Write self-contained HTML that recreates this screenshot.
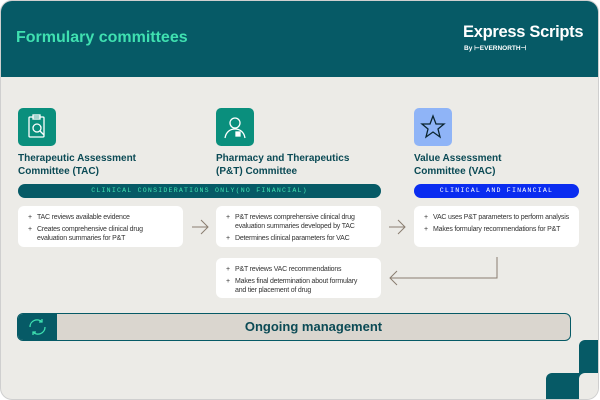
<!DOCTYPE html>
<html><head><meta charset="utf-8"><style>
*{margin:0;padding:0;box-sizing:border-box}
body{width:600px;height:400px;background:#fff;font-family:"Liberation Sans",sans-serif;position:relative;overflow:hidden}
.card{position:absolute;left:0;top:0;width:599px;height:400px;border-radius:12px;background:#ecebe7;border:1px solid #cfcfcf;overflow:hidden}
.hdr{position:absolute;left:0;top:0;width:600px;height:76px;background:#065a66}
.a{position:absolute}
.title{left:15px;top:28px;color:#3fe0b0;font-size:16px;font-weight:bold}
.es{left:462px;top:22px;color:#fff;font-size:16.5px;font-weight:bold;letter-spacing:-0.3px}
.by{left:463px;top:43px;color:#fff;font-size:6.5px;font-weight:bold}
.icon{width:38px;height:38px;border-radius:5px;background:#0a8f7d;top:107px}
.ct{top:152px;font-size:10px;font-weight:bold;color:#0b4a55;line-height:12.5px}
.bar{top:183px;height:14px;border-radius:7px;font-family:"Liberation Mono",monospace;font-size:6.6px;text-align:center;line-height:14px;letter-spacing:1.2px}
.box{background:#fff;border-radius:6px;font-size:7px;color:#333;padding:7px 22px 0 10px;line-height:9px;letter-spacing:-0.2px}
.box div{position:relative;padding-left:9px;margin-bottom:3px}
.box div:before{content:"+";position:absolute;left:0;top:0}
</style></head><body>
<div class="card">
<div class="hdr"></div>
<div class="a title">Formulary committees</div>
<div class="a es">Express Scripts</div>
<div class="a by">By ⊢EVERNORTH⊣</div>

<div class="a icon" style="left:17px"><svg width="38" height="38"><g fill="none" stroke="#fff" stroke-width="1.3"><rect x="11" y="9" width="15" height="20" rx="1"/><rect x="15" y="7" width="7" height="4"/><circle cx="19" cy="20" r="4"/><line x1="22" y1="23" x2="26" y2="27"/></g></svg></div>
<div class="a icon" style="left:215px"><svg width="38" height="38"><g fill="none" stroke="#fff" stroke-width="1.3"><circle cx="19" cy="15" r="5"/><path d="M9 30c1-6 5-9 10-9s9 3 10 9"/><rect x="20" y="24" width="4" height="4" fill="#fff"/></g></svg></div>
<div class="a icon" style="left:413px;background:#8fb4f7"><svg width="38" height="38"><polygon points="19,8 22,16 30,16 24,21 26,29 19,24 12,29 14,21 8,16 16,16" fill="none" stroke="#0b2530" stroke-width="1.3"/></svg></div>

<div class="a ct" style="left:17px">Therapeutic Assessment<br>Committee (TAC)</div>
<div class="a ct" style="left:215px">Pharmacy and Therapeutics<br>(P&amp;T) Committee</div>
<div class="a ct" style="left:413px">Value Assessment<br>Committee (VAC)</div>

<div class="a bar" style="left:17px;width:363px;background:#065a66;color:#3fe0b0">CLINICAL CONSIDERATIONS ONLY(NO FINANCIAL)</div>
<div class="a bar" style="left:413px;width:165px;background:#0a2cf0;color:#fff">CLINICAL AND FINANCIAL</div>

<div class="a box" style="left:17px;top:205px;width:165px;height:41px"><div>TAC reviews available evidence</div><div>Creates comprehensive clinical drug evaluation summaries for P&amp;T</div></div>
<div class="a box" style="left:215px;top:205px;width:165px;height:41px"><div>P&amp;T reviews comprehensive clinical drug evaluation summaries developed by TAC</div><div>Determines clinical parameters for VAC</div></div>
<div class="a box" style="left:413px;top:205px;width:165px;height:41px;padding-right:4px"><div>VAC uses P&amp;T parameters to perform analysis</div><div>Makes formulary recommendations for P&amp;T</div></div>
<div class="a box" style="left:215px;top:257px;width:165px;height:40px"><div>P&amp;T reviews VAC recommendations</div><div>Makes final determination about formulary and tier placement of drug</div></div>

<svg class="a" style="left:0;top:0" width="600" height="400"><g fill="none" stroke="#8a7d70" stroke-width="1"><path d="M191 226H207M200 219L207 226L200 233"/><path d="M388 226H404M397 219L404 226L397 233"/><path d="M496 256V277H389M396 270L389 277L396 284"/></g></svg>

<div class="a" style="left:16px;top:312px;width:554px;height:28px;border:1.5px solid #065a66;border-radius:6px;background:#dad6cf;overflow:hidden">
<div class="a" style="left:0;top:0;width:39px;height:28px;background:#065a66"><svg width="39" height="26"><g fill="none" stroke="#3fe0b0" stroke-width="1.3"><path d="M12 13a7 7 0 0 1 12-5"/><path d="M27 13a7 7 0 0 1-12 5"/><path d="M24 5v3h-3M15 21v-3h3"/></g></svg></div>
<div class="a" style="left:39px;width:513px;top:5px;text-align:center;font-size:13px;font-weight:bold;color:#0b4a55">Ongoing management</div>
</div>

<div class="a" style="left:578px;top:339px;width:30px;height:40px;background:#065a66;border-radius:6px 0 0 6px"></div>
<div class="a" style="left:545px;top:372px;width:40px;height:40px;background:#065a66;border-radius:6px"></div>
<div class="a" style="left:578px;top:372px;width:30px;height:40px;background:#ecebe7;border-radius:6px 0 0 0"></div>
</div>
</body></html>
